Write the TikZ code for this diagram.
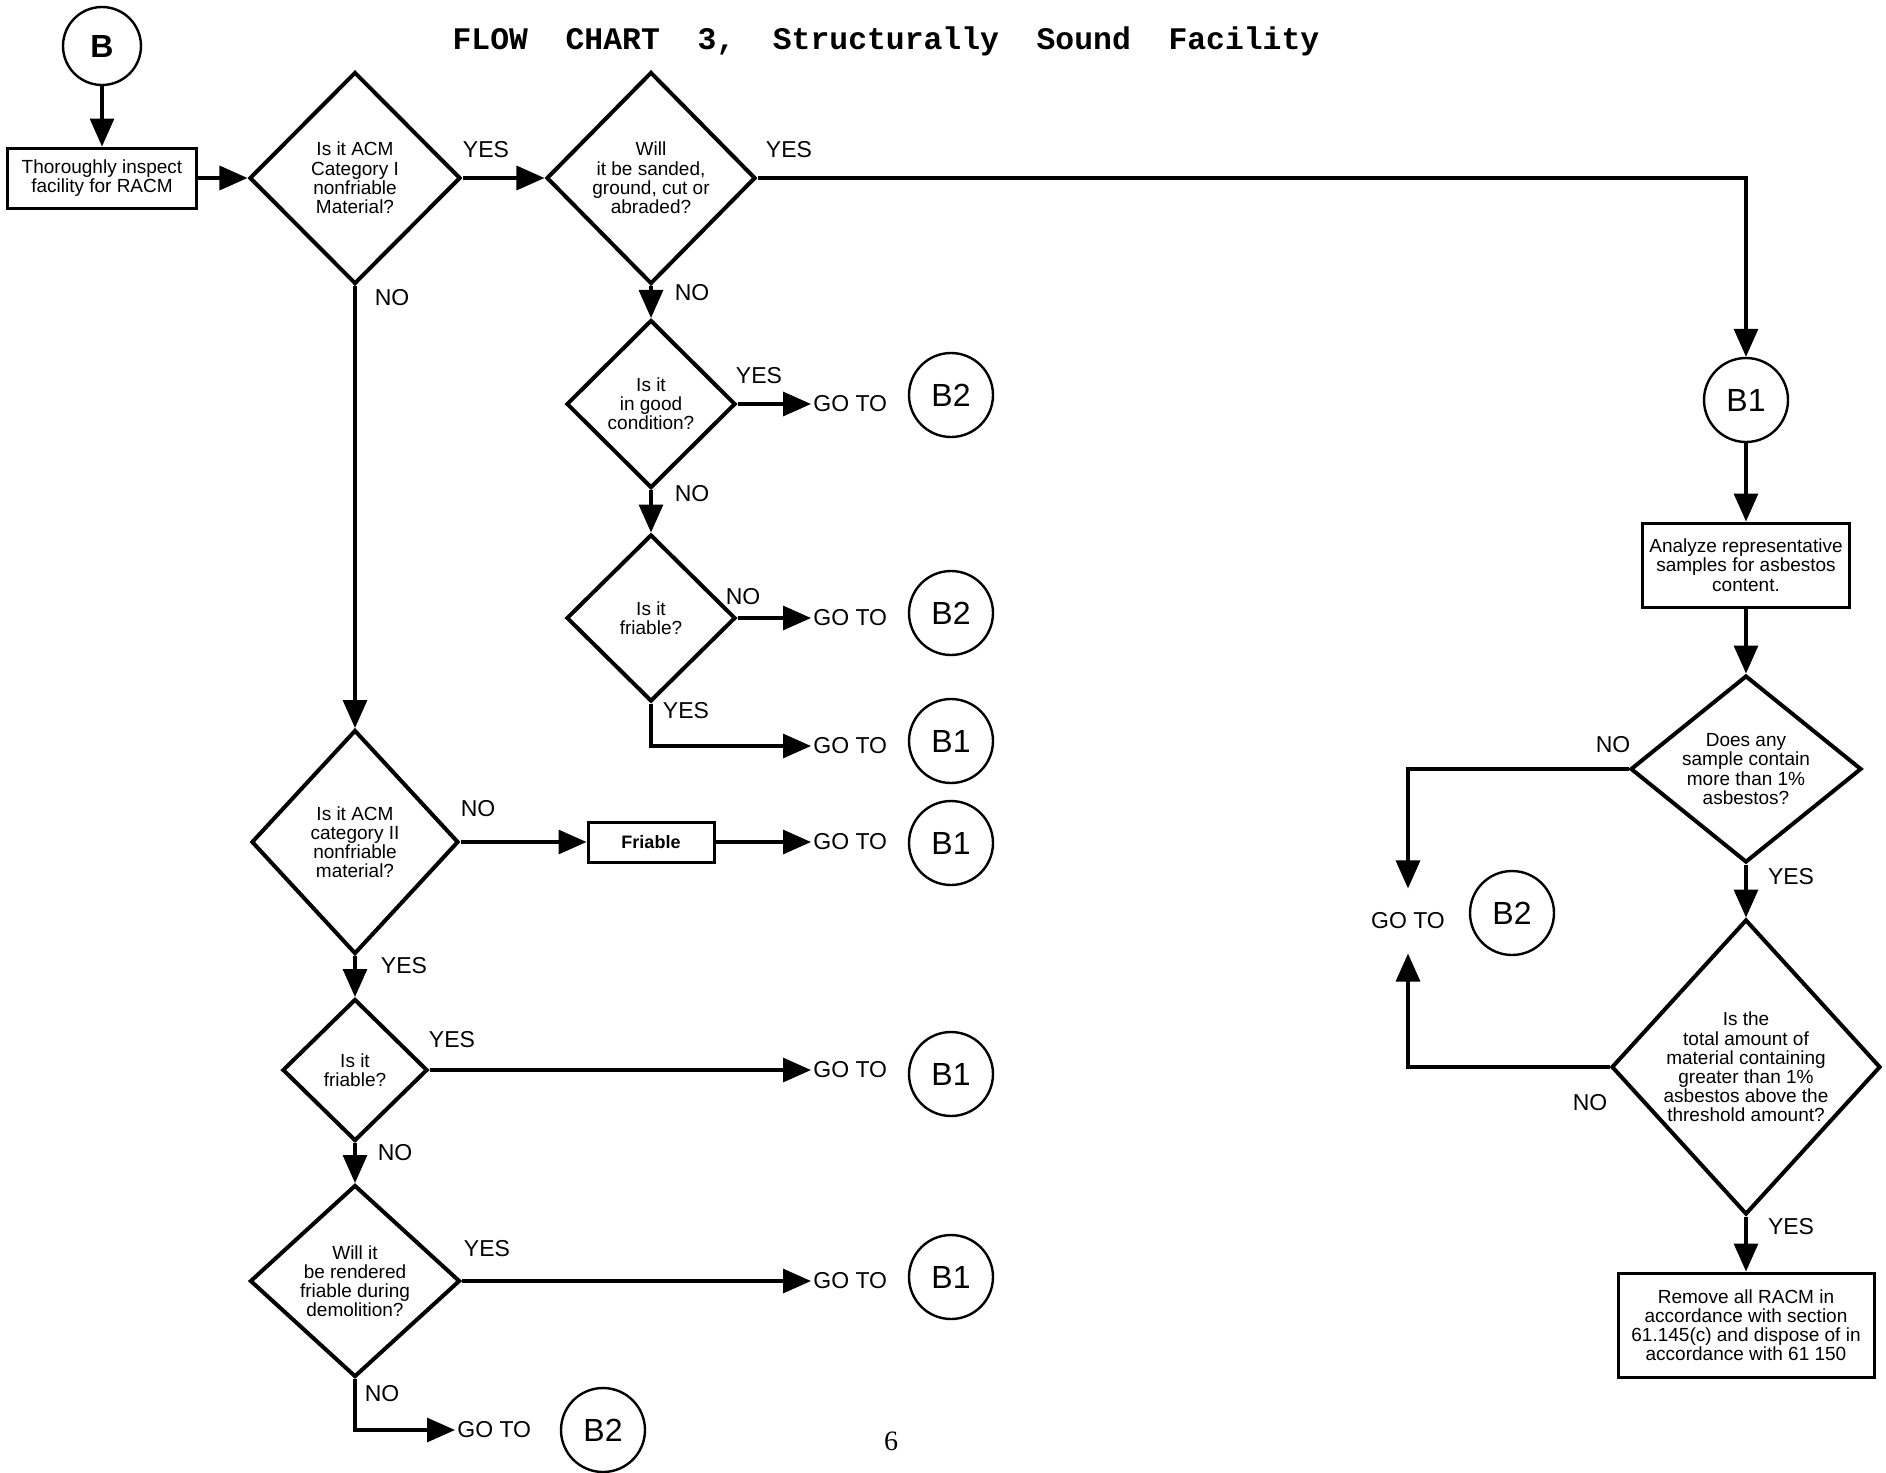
\documentclass[tikz,border=0pt]{standalone}
\usepackage{fontspec}
\setmainfont{Liberation Sans}
\newfontfamily\titlefont{Liberation Mono}
\newfontfamily\pagefont{Liberation Serif}
\usetikzlibrary{arrows.meta,shapes.geometric}

\begin{document}
\begin{tikzpicture}[x=0.5pt, y=-0.5pt,
    txt/.style={font=\fontsize{9.5}{9.6}\selectfont, align=center},
    decision/.style={diamond, draw, line width=2pt, inner sep=0pt, txt},
    process/.style={rectangle, draw, line width=1.5pt, inner sep=1pt, txt},
    ring/.style={circle, draw, line width=1.2pt, minimum size=42pt, inner sep=0pt, font=\fontsize{16}{16}\selectfont},
    goto/.style={anchor=west, inner sep=1pt, font=\fontsize{11.5}{11.5}\selectfont},
    answer/.style={font=\fontsize{11.5}{11.5}\selectfont},
    flow/.style={line width=1.6pt, -{Triangle[length=14pt, width=12pt]}}]
  \useasboundingbox (0,0) rectangle (1886,1473);
  \node[font=\titlefont\fontsize{15.7}{16}\selectfont\bfseries] (title) at (886,41)
    {FLOW\ \ CHART\ \ 3,\ \ Structurally\ \ Sound\ \ Facility};
  \node[ring, minimum size=39pt, font=\fontsize{16}{16}\selectfont\bfseries] (start) at (102,46) {B};
  \node[process, minimum width=94.5pt, minimum height=30pt] (inspect) at (102,178) {Thoroughly inspect\\facility for RACM};
  % left and middle columns
  \node[decision, minimum width=105.5pt, minimum height=106pt] (d1) at (355,178) {Is it ACM\\Category I\\nonfriable\\Material?};
  \node[decision, minimum width=104.5pt, minimum height=106pt] (d2) at (651,178) {Will\\it be sanded,\\ground, cut or\\abraded?};
  \node[decision, minimum width=84.5pt, minimum height=84pt] (d3) at (651,404) {Is it\\in good\\condition?};
  \node[decision, minimum width=84.5pt, minimum height=83.5pt] (d4) at (651,618) {Is it\\friable?};
  \node[decision, minimum width=103.5pt, minimum height=112pt] (d5) at (355,842) {Is it ACM\\category II\\nonfriable\\material?};
  \node[decision, minimum width=72.5pt, minimum height=71pt] (d6) at (355,1070) {Is it\\friable?};
  \node[decision, minimum width=105pt, minimum height=96pt] (d7) at (355,1281) {Will it\\be rendered\\friable during\\demolition?};
  \node[process, font=\fontsize{9}{9.6}\selectfont\bfseries, minimum width=63pt, minimum height=20pt] (friable) at (651,842) {Friable};
  \foreach \n/\y in {go3/404, go4/618, go4b/746, go5/842, go6/1070, go7/1281}
    \node[goto] (\n) at (811,\y) {GO TO};
  \node[goto] (go7b) at (455,1430) {GO TO};
  \foreach \n/\y/\t in {c3/395/B2, c4/613/B2, c4b/741/B1, c5/843/B1, c6/1074/B1, c7/1277/B1}
    \node[ring] (\n) at (951,\y) {\t};
  \node[ring] (c7b) at (603,1430) {B2};
  % right column
  \node[ring] (b1r) at (1746,400) {B1};
  \node[process, minimum width=103.5pt, minimum height=42pt] (analyze) at (1746,565) {Analyze representative\\samples for asbestos\\content.};
  \node[decision, aspect=1.235, minimum width=115.5pt, minimum height=93.5pt] (d8) at (1746,769) {Does any\\sample contain\\more than 1\%\\asbestos?};
  \node[decision, aspect=0.912, minimum width=134.5pt, minimum height=147.5pt] (d9) at (1746,1067) {Is the\\total amount of\\material containing\\greater than 1\%\\asbestos above the\\threshold amount?};
  \node[process, minimum width=128pt, minimum height=52pt] (remove) at (1746,1325) {Remove all RACM in\\accordance with section\\61.145(c) and dispose of in\\accordance with 61 150};
  \node[goto, anchor=center, inner ysep=12pt] (go8) at (1408,921) {GO TO};
  \node[ring] (c8) at (1512,913) {B2};
  \foreach \n/\x/\y/\t in {yes1/486/150/YES, yes2/789/150/YES, no1/392/298/NO, no2/692/293/NO,
      yes3/759/376/YES, no3/692/494/NO, no4/743/597/NO, yes4/686/711/YES, no5/478/809/NO,
      yes5/404/966/YES, yes6/452/1040/YES, no6/395/1153/NO, yes7/487/1249/YES, no7/382/1394/NO,
      no8/1613/745/NO, yes8/1791/877/YES, no9/1590/1103/NO, yes9/1791/1227/YES}
    \node[answer] (\n) at (\x,\y) {\t};
  \node[font=\pagefont\fontsize{14}{14}\selectfont] (page) at (891,1441) {6};
  \draw[flow] (start) -- (inspect);
  \draw[flow] (inspect) -- (d1);
  \draw[flow] (d1) -- (d2);
  \draw[flow] (d2.east) -| (b1r.north);
  \draw[flow] (d1) -- (d5);
  \draw[flow] (d2) -- (d3);
  \draw[flow] (d3.east) -- (go3.west);
  \draw[flow] (d3) -- (d4);
  \draw[flow] (d4.east) -- (go4.west);
  \draw[flow] (d4.south) |- (go4b.west);
  \draw[flow] (d5.east) -- (friable.west);
  \draw[flow] (friable.east) -- (go5.west);
  \draw[flow] (d5) -- (d6);
  \draw[flow] (d6.east) -- (go6.west);
  \draw[flow] (d6) -- (d7);
  \draw[flow] (d7.east) -- (go7.west);
  \draw[flow] (d7.south) |- (go7b.west);
  \draw[flow] (b1r) -- (analyze);
  \draw[flow] (analyze) -- (d8);
  \draw[flow] (d8.west) -| (go8.north);
  \draw[flow] (d8) -- (d9);
  \draw[flow] (d9.west) -| (go8.south);
  \draw[flow] (d9) -- (remove);
\end{tikzpicture}
\end{document}
